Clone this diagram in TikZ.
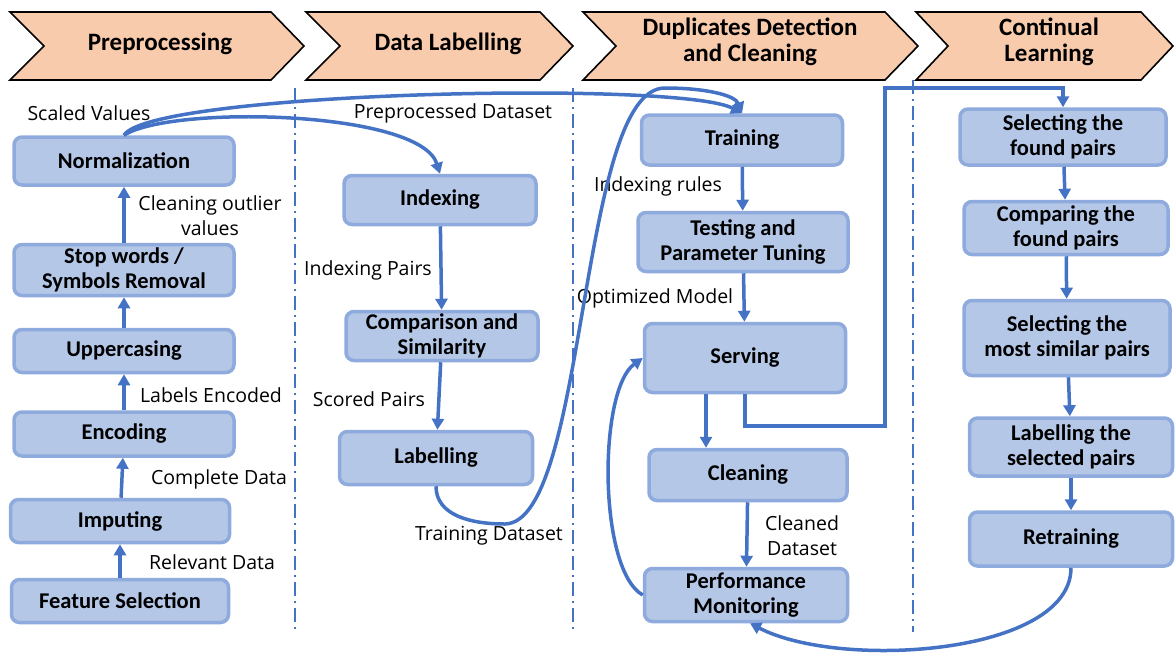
\documentclass[tikz,border=0pt]{standalone}
\usepackage{fontspec}
\setmainfont{Open Sans}
\newfontfamily\carlito{Carlito}
\usetikzlibrary{arrows.meta}
\definecolor{boxfill}{HTML}{B4C7E7}
\definecolor{boxline}{HTML}{8FAADC}
\definecolor{flowblue}{HTML}{4472C4}
\definecolor{chevfill}{HTML}{F8CBAD}

\begin{document}
\begin{tikzpicture}[x=1pt,y=-1pt,
  box/.style={draw=boxline,fill=boxfill,line width=3.5pt,rounded corners=8pt,align=center,
    font=\carlito\bfseries\fontsize{22.5}{25}\selectfont,inner sep=0pt},
  wh/.style 2 args={minimum width=#1pt,minimum height=#2pt},
  lbl/.style={align=center,font=\fontsize{19.5}{25}\selectfont,inner sep=0pt},
  head/.style={align=center,font=\carlito\bfseries\fontsize{25}{26}\selectfont,inner sep=0pt},
  chev/.style={draw=black,fill=chevfill,line width=1.6pt},
  flow/.style={draw=flowblue,line width=3.5pt,-{Triangle[length=11pt,width=12pt]}},
  divider/.style={draw=flowblue,line width=1.5pt,dash pattern=on 14pt off 5pt on 2pt off 5pt}]
\useasboundingbox (0,0) rectangle (1175,654);

% stage headers
\draw[chev] (10,12) -- (271,12) -- (304,46) -- (271,80) -- (10,80) -- (44,46) -- cycle;
\draw[chev] (306,12) -- (540,12) -- (573,46) -- (540,80) -- (306,80) -- (340,46) -- cycle;
\draw[chev] (583,12) -- (885,12) -- (918,46) -- (885,80) -- (583,80) -- (616,46) -- cycle;
\draw[chev] (916,12) -- (1141,12) -- (1173,46) -- (1141,80) -- (916,80) -- (948,46) -- cycle;
\node[head] (h1) at (160,44) {Preprocessing};
\node[head] (h2) at (448,44) {Data Labelling};
\node[head] (h3) at (750,42) {Duplicates Detection\\and Cleaning};
\node[head] (h4) at (1049,42) {Continual\\Learning};

\draw[divider] (295,88) -- (295,632);
\draw[divider] (573,88) -- (573,630);
\draw[divider] (913,80) -- (913,632);

% preprocessing
\node[box,wh={220}{48}] (norm) at (124,161) {Normalization};
\node[box,wh={220}{51}] (stop) at (124,270) {Stop words /\\Symbols Removal};
\node[box,wh={220}{43}] (upper) at (124,351) {Uppercasing};
\node[box,wh={220}{44}] (enc) at (124,434) {Encoding};
\node[box,wh={219}{43}] (imp) at (120,521) {Imputing};
\node[box,wh={217}{43}] (feat) at (120,601) {Feature Selection};

% data labelling
\node[box,wh={192}{49}] (index) at (440,200) {Indexing};
\node[box,wh={192}{49}] (comp) at (442,336) {Comparison and\\Similarity};
\node[box,wh={193}{53}] (lab) at (436,458) {Labelling};

% duplicates detection
\node[box,wh={201}{50}] (train) at (742,140) {Training};
\node[box,wh={210}{59}] (test) at (743,242) {Testing and\\Parameter Tuning};
\node[box,wh={201}{69}] (serv) at (745,358) {Serving};
\node[box,wh={198}{51}] (clean) at (748,475) {Cleaning};
\node[box,wh={203}{53}] (perf) at (746,595) {Performance\\Monitoring};

% continual learning
\node[box,wh={206}{56}] (sel) at (1063,137) {Selecting the\\found pairs};
\node[box,wh={204}{53}] (cmp) at (1066,228) {Comparing the\\found pairs};
\node[box,wh={206}{75}] (most) at (1067,338) {Selecting the\\most similar pairs};
\node[box,wh={203}{58}] (labsel) at (1071,447) {Labelling the\\selected pairs};
\node[box,wh={203}{54}] (retrain) at (1071,539) {Retraining};

% labels
\node[lbl] (l1) at (89,113) {Scaled Values};
\node[lbl] (l2) at (210,216) {Cleaning outlier\\values};
\node[lbl] (l3) at (211,395) {Labels Encoded};
\node[lbl] (l4) at (219,479) {Complete Data};
\node[lbl] (l5) at (212,562) {Relevant Data};
\node[lbl] (l6) at (453,113) {Preprocessed Dataset};
\node[lbl] (l7) at (368,270) {Indexing Pairs};
\node[lbl] (l8) at (369,399) {Scored Pairs};
\node[lbl] (l9) at (489,536) {Training Dataset};
\node[lbl] (l10) at (658,186) {Indexing rules};
\node[lbl] (l11) at (655,298) {Optimized Model};
\node[lbl] (l12) at (802,536) {Cleaned\\Dataset};

\coordinate (dip) at (505,524);
\coordinate (apex) at (665,88);
\coordinate (c1) at (885,426);
\coordinate (c2) at (885,88);

\draw[flow] (feat) -- (imp);
\draw[flow] (imp) -- (enc);
\draw[flow] (enc) -- (upper);
\draw[flow] (upper) -- (stop);
\draw[flow] (stop) -- (norm);
\draw[flow] (norm.north) .. controls (150,92) and (680,80) .. (train.north);
\draw[flow] (norm.north) .. controls (170,105) and (420,110) .. (index.north);

\draw[flow] (index) -- (comp);
\draw[flow] (comp) -- (lab);
\draw[flow] (lab.south) .. controls (436,515) and (470,524) .. (dip)
  .. controls (588,522) and (578,88) .. (apex)
  .. controls (705,88) and (735,95) .. (train.north);

\draw[flow] (train) -- (test);
\draw[flow] (test) -- (serv);
\draw[flow] ([xshift=-39pt]serv.south) -- ([xshift=-42pt]clean.north);
\draw[flow] (clean) -- (perf);
\draw[flow] (perf.west) .. controls (598,570) and (598,390) .. (serv.west);
\draw[flow] (serv.south) |- (c1) -- (c2) -| (sel.north);

\draw[flow] (sel) -- (cmp);
\draw[flow] (cmp) -- (most);
\draw[flow] (most) -- (labsel);
\draw[flow] (labsel) -- (retrain);
\draw[flow] (retrain.south) .. controls (1071,655) and (840,670) .. ([xshift=4pt]perf.south);
\end{tikzpicture}
\end{document}
